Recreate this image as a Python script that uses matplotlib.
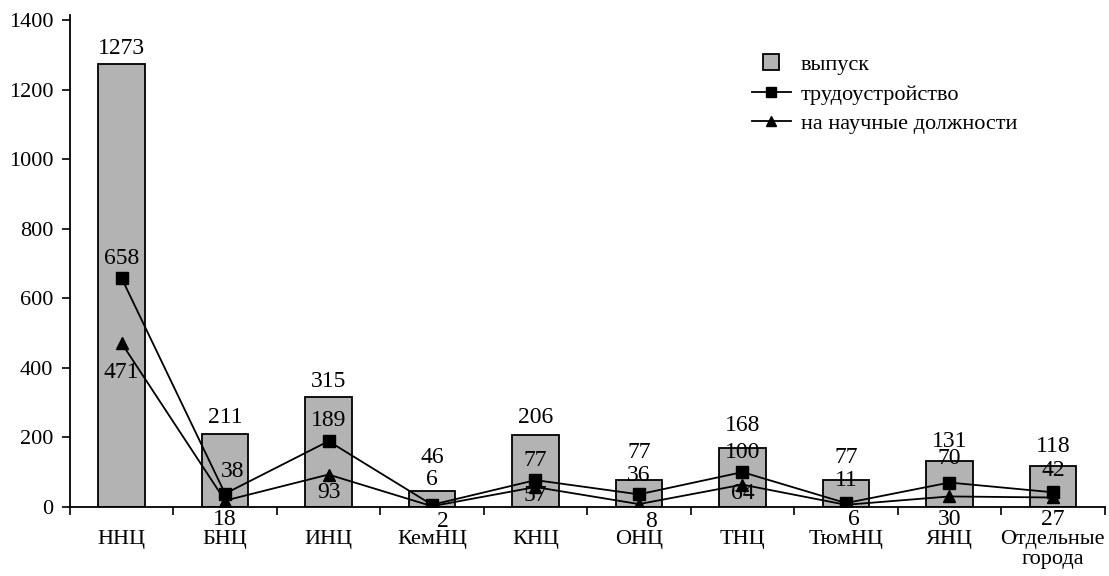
import matplotlib.pyplot as plt
from matplotlib.lines import Line2D
import numpy as np

# Данные
centres = ['ННЦ', 'БНЦ', 'ИНЦ', 'КемНЦ', 'КНЦ', 'ОНЦ', 'ТНЦ', 'ТюмНЦ', 'ЯНЦ', 'Отдельные\nгорода']
vypusk = [1273, 211, 315, 46, 206, 77, 168, 77, 131, 118]
trud = [658, 38, 189, 6, 77, 36, 100, 11, 70, 42]
nauch = [471, 18, 93, 2, 57, 8, 64, 6, 30, 27]

# сдвиги подписей (пиксели)
bar_dy = [16, 16, 16, 33, 18, 28, 23, 23, 20, 19]
trud_dx = [0, 8, 0, 0, 0, 0, 0, 0, 0, 0]
trud_dy = [20, 22, 21, 25, 20, 19, 20, 23, 24, 22]
nauch_dx = [0, 0, 0, 11, 0, 12, 0, 8, 0, 0]
nauch_dy = [-29, -19, -18, -15, -8, -17, -9, -15, -23, -22]

plt.rcParams['font.family'] = ['Liberation Serif', 'DejaVu Serif']
plt.rcParams['font.size'] = 16
lbl_size = 17

fig = plt.figure(figsize=(11.09, 5.76), dpi=100)
ax = fig.add_axes([0.063, 0.12, 0.933, 0.854])

x = np.arange(len(centres))
ax.bar(x, vypusk, width=0.45, color='#b3b3b3', edgecolor='black', linewidth=1.3, zorder=2)
ax.plot(x, trud, color='black', linewidth=1.3, marker='s', markersize=8, zorder=3)
ax.plot(x, nauch, color='black', linewidth=1.3, marker='^', markersize=8, zorder=3)

# подписи
for i, v in enumerate(vypusk):
    ax.annotate(str(v), (i, v), xytext=(0, bar_dy[i]), textcoords='offset pixels',
                ha='center', va='center', fontsize=lbl_size, zorder=4)
for i, v in enumerate(trud):
    ax.annotate(str(v), (i, v), xytext=(trud_dx[i], trud_dy[i]), textcoords='offset pixels',
                ha='center', va='center', fontsize=lbl_size, zorder=4)
for i, v in enumerate(nauch):
    ax.annotate(str(v), (i, v), xytext=(nauch_dx[i], nauch_dy[i]), textcoords='offset pixels',
                ha='center', va='center', fontsize=lbl_size, zorder=4)

ax.set_xlim(-0.5, len(centres) - 0.5)
ax.set_ylim(0, 1415)
ax.set_yticks(np.arange(0, 1401, 200))
ax.set_xticks(x)
ax.set_xticklabels(centres, linespacing=1.05)
ax.set_xticks(np.arange(-0.5, len(centres), 1), minor=True)
ax.tick_params(axis='x', which='major', length=0, pad=17)
ax.tick_params(axis='x', which='minor', length=6, width=1.2, direction='out')
ax.tick_params(axis='y', length=6, width=1.2, direction='out', pad=6)

for s in ['top', 'right']:
    ax.spines[s].set_visible(False)
for s in ['left', 'bottom']:
    ax.spines[s].set_linewidth(1.3)

handles = [
    Line2D([], [], linestyle='none', marker='s', markersize=12,
           markerfacecolor='#b3b3b3', markeredgecolor='black', markeredgewidth=1.3),
    Line2D([], [], color='black', linewidth=1.3, marker='s', markersize=7),
    Line2D([], [], color='black', linewidth=1.3, marker='^', markersize=7),
]
fig.legend(handles, ['выпуск', 'трудоустройство', 'на научные должности'],
           loc='upper left', bbox_to_anchor=(0.678, 0.905), frameon=False,
           borderaxespad=0, borderpad=0, handlelength=1.75, handletextpad=0.45,
           labelspacing=0.4)

plt.savefig('out.png', dpi=100)
